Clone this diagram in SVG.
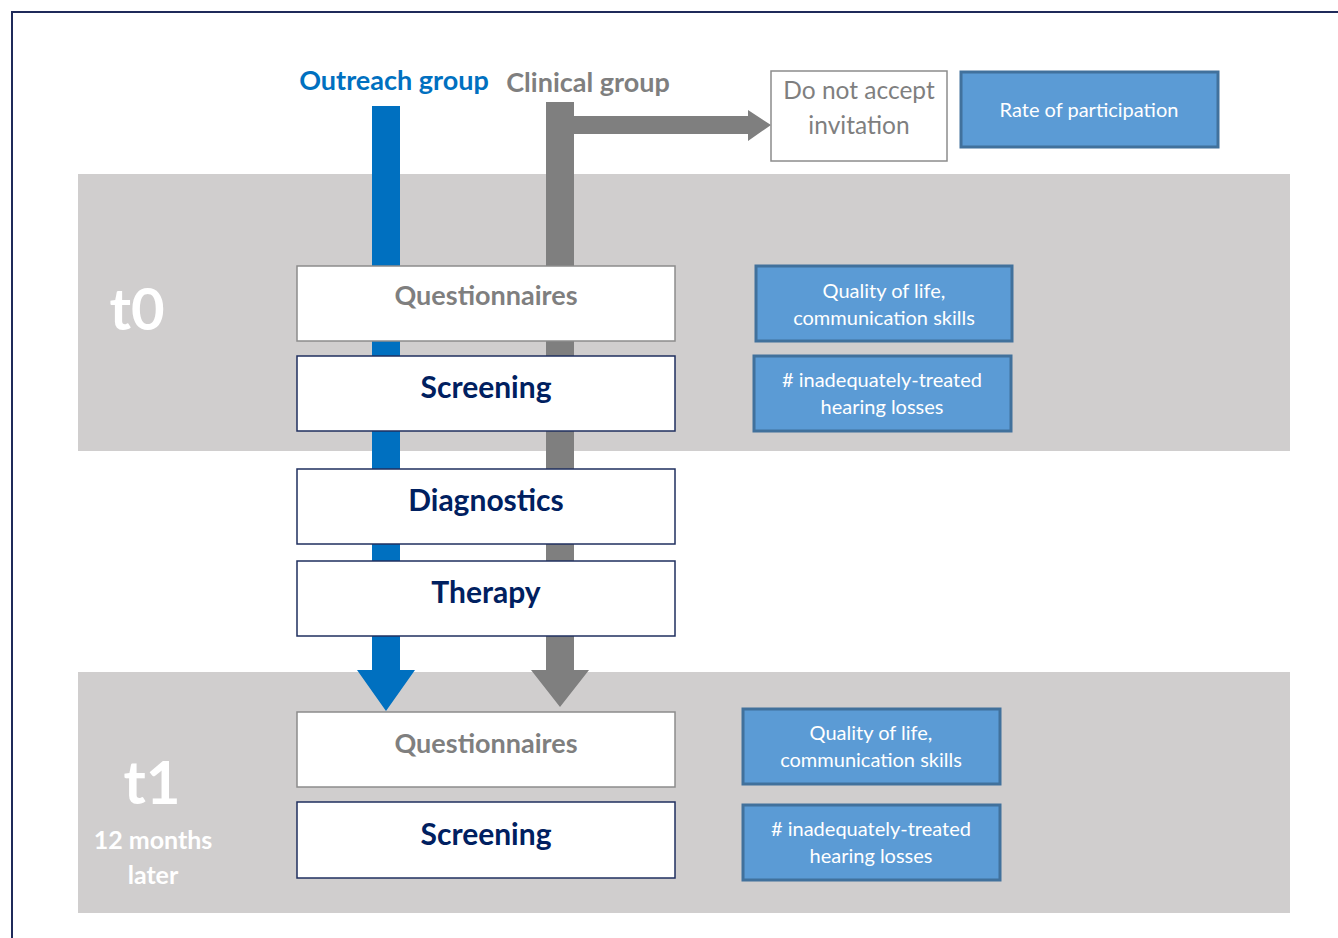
<svg xmlns="http://www.w3.org/2000/svg" width="1338" height="938" viewBox="0 0 1338 938">
<style>
text{font-family:Lato,"Open Sans","Liberation Sans",sans-serif;text-anchor:middle}
.band{fill:#d0cece}
.wbox{fill:#ffffff;stroke:#8c8c8c;stroke-width:1.5}
.nbox{fill:#ffffff;stroke:#1f2f5f;stroke-width:1.5}
.bbox{fill:#5b9bd5;stroke:#41719c;stroke-width:3}
.gt{fill:#7f7f7f;font-weight:bold;font-size:27px}
.nt{fill:#002060;font-weight:bold;font-size:30px}
.bt{fill:#ffffff;font-size:20px}
.lt{fill:#ffffff;font-weight:bold}
</style>
<rect width="1338" height="938" fill="#ffffff"/>
<path d="M12,938 V12 H1338" fill="none" stroke="#1f2a5a" stroke-width="2"/>
<rect class="band" x="78" y="174" width="1212" height="277"/>
<rect class="band" x="78" y="672" width="1212" height="241"/>
<g id="labels">
<text x="394" y="90" fill="#0070c0" font-weight="bold" font-size="27">Outreach group</text>
<text x="588" y="92" fill="#7f7f7f" font-weight="bold" font-size="27">Clinical group</text>
<text class="lt" x="137" y="330" font-size="58">t0</text>
<text class="lt" x="152" y="804" font-size="60">t1</text>
<text class="lt" x="153" y="849" font-size="25">12 months</text>
<text class="lt" x="153" y="884" font-size="25">later</text>
</g>
<g id="connectors">
<path d="M372,106 H400 V670 H415 L386,711 L357,670 H372 Z" fill="#0070c0"/>
<path d="M546,102 H574 V670 H589 L560,707 L531,670 H546 Z" fill="#7f7f7f"/>
<path d="M574,116 H748 V110 L771,125 L748,141 V134 H574 Z" fill="#7f7f7f"/>
</g>
<g id="decline">
<rect x="771" y="71" width="176" height="90" fill="#ffffff" stroke="#8c8c8c" stroke-width="1.5"/>
<text x="859" y="99" fill="#7f7f7f" font-size="24.5">Do not accept</text>
<text x="859" y="134" fill="#7f7f7f" font-size="24.5">invitation</text>
</g>
<g id="participation">
<rect class="bbox" x="961" y="72" width="257" height="75"/>
<text class="bt" x="1089" y="117">Rate of participation</text>
</g>
<g id="questionnaires0">
<rect class="wbox" x="297" y="266" width="378" height="75"/>
<text class="gt" x="486" y="305">Questionnaires</text>
</g>
<g id="screening0">
<rect class="nbox" x="297" y="356" width="378" height="75"/>
<text class="nt" x="486" y="398">Screening</text>
</g>
<g id="diagnostics">
<rect class="nbox" x="297" y="469" width="378" height="75"/>
<text class="nt" x="486" y="511">Diagnostics</text>
</g>
<g id="therapy">
<rect class="nbox" x="297" y="561" width="378" height="75"/>
<text class="nt" x="486" y="603">Therapy</text>
</g>
<g id="questionnaires1">
<rect class="wbox" x="297" y="712" width="378" height="75"/>
<text class="gt" x="486" y="753">Questionnaires</text>
</g>
<g id="screening1">
<rect class="nbox" x="297" y="802" width="378" height="76"/>
<text class="nt" x="486" y="845">Screening</text>
</g>
<g id="qol0">
<rect class="bbox" x="756" y="266" width="256" height="75"/>
<text class="bt" x="884" y="298">Quality of life,</text>
<text class="bt" x="884" y="325">communication skills</text>
</g>
<g id="hl0">
<rect class="bbox" x="754" y="356" width="257" height="75"/>
<text class="bt" x="882" y="387"># inadequately-treated</text>
<text class="bt" x="882" y="414">hearing losses</text>
</g>
<g id="qol1">
<rect class="bbox" x="743" y="709" width="257" height="75"/>
<text class="bt" x="871" y="740">Quality of life,</text>
<text class="bt" x="871" y="767">communication skills</text>
</g>
<g id="hl1">
<rect class="bbox" x="743" y="805" width="257" height="75"/>
<text class="bt" x="871" y="836"># inadequately-treated</text>
<text class="bt" x="871" y="863">hearing losses</text>
</g>
</svg>
